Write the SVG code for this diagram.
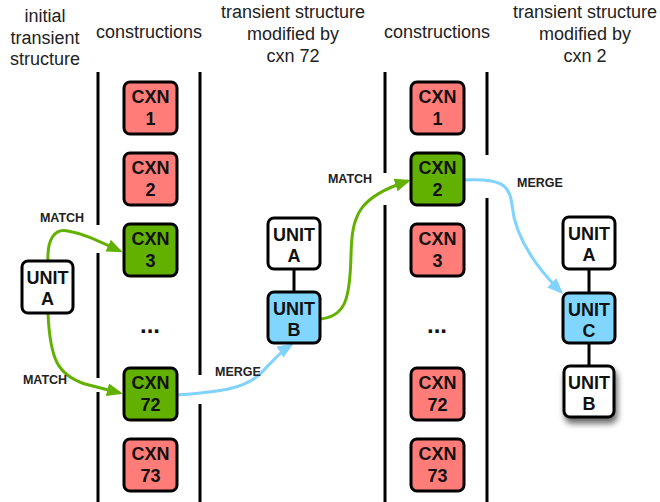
<svg xmlns="http://www.w3.org/2000/svg" width="660" height="502" viewBox="0 0 660 502">
<defs>
<style>
.hdr{font-family:"Liberation Sans",Arial,sans-serif;font-size:18px;fill:#222;text-anchor:middle}
.lbl{font-family:"Liberation Sans",Arial,sans-serif;font-size:12.5px;font-weight:bold;fill:#222;text-anchor:middle}
.bt{font-family:"Liberation Sans",Arial,sans-serif;font-size:18px;font-weight:bold;fill:#111;text-anchor:middle}
.dots{font-family:"Liberation Sans",Arial,sans-serif;font-size:24px;font-weight:bold;fill:#111;text-anchor:middle}
.red{fill:#FF7C78;stroke:#000;stroke-width:3}
.grn{fill:#62B000;stroke:#000;stroke-width:3}
.blu{fill:#80D6FF;stroke:#000;stroke-width:3}
.wht{fill:#fff;stroke:#000;stroke-width:3}
.vl{stroke:#000;stroke-width:3;fill:none}
.ga{stroke:#62B000;stroke-width:3;fill:none}
.ba{stroke:#80D2FF;stroke-width:3;fill:none}
</style>
<marker id="mg" markerUnits="userSpaceOnUse" markerWidth="18" markerHeight="14" refX="13" refY="6.5" orient="auto"><path d="M0,0 L16,6.5 L0,13 z" fill="#62B000"/></marker>
<marker id="mb" markerUnits="userSpaceOnUse" markerWidth="18" markerHeight="14" refX="13" refY="6.5" orient="auto"><path d="M0,0 L16,6.5 L0,13 z" fill="#80D2FF"/></marker>
<filter id="sh" x="-30%" y="-30%" width="170%" height="170%"><feDropShadow dx="2" dy="5" stdDeviation="3" flood-color="#000" flood-opacity="0.6"/></filter>
</defs>

<g id="headers">
<text class="hdr" x="45" y="22">initial</text>
<text class="hdr" x="45" y="44">transient</text>
<text class="hdr" x="45" y="65">structure</text>
<text class="hdr" x="149" y="38">constructions</text>
<text class="hdr" x="293" y="18">transient structure</text>
<text class="hdr" x="293" y="40">modified by</text>
<text class="hdr" x="293" y="62">cxn 72</text>
<text class="hdr" x="437" y="38">constructions</text>
<text class="hdr" x="585" y="18">transient structure</text>
<text class="hdr" x="585" y="40">modified by</text>
<text class="hdr" x="585" y="62">cxn 2</text>
</g>

<g id="dividers">
<path class="vl" d="M98,72 V225 M98,253 V378 M98,392 V502"/>
<path class="vl" d="M200,72 V375 M200,404 V502"/>
<path class="vl" d="M385,72 V173 M385,205 V502"/>
<path class="vl" d="M487,72 V155 M487,198 V502"/>
</g>

<g id="connectors">
<path class="ga" d="M48,261 C47,240 54,228 68,231 C85,234 100,242 120,251" marker-end="url(#mg)"/>
<path class="ga" d="M48,313 C50,360 58,375 85,384 L120,393" marker-end="url(#mg)"/>
<path class="ba" d="M177,395 C215,392 245,390 262,372 C272,362 280,352 291,345" marker-end="url(#mb)"/>
<path class="ga" d="M321,319 C345,316 350,300 351,255 C352,215 358,197 408,181" marker-end="url(#mg)"/>
<path class="ba" d="M463,180 C500,178 510,184 512,205 C515,238 537,268 561,292" marker-end="url(#mb)"/>
<path class="vl" d="M294,269 V292"/>
<path class="vl" d="M589,269 V293 M589,343 V366"/>
<text class="lbl" x="62" y="222">MATCH</text>
<text class="lbl" x="45" y="384">MATCH</text>
<text class="lbl" x="238" y="376">MERGE</text>
<text class="lbl" x="350" y="183">MATCH</text>
<text class="lbl" x="540" y="187">MERGE</text>
</g>

<g id="cxn1-l"><rect class="red" x="124" y="82" width="53" height="52" rx="6"/><text class="bt" x="150.5" y="103">CXN</text><text class="bt" x="150.5" y="125">1</text></g>
<g id="cxn2-l"><rect class="red" x="124" y="153" width="53" height="52" rx="6"/><text class="bt" x="150.5" y="174">CXN</text><text class="bt" x="150.5" y="196">2</text></g>
<g id="cxn3-l"><rect class="grn" x="124" y="224" width="53" height="52" rx="6"/><text class="bt" x="150.5" y="245">CXN</text><text class="bt" x="150.5" y="267">3</text></g>
<g id="dots-l"><text class="dots" x="150" y="333">...</text></g>
<g id="cxn72-l"><rect class="grn" x="124" y="368" width="53" height="52" rx="6"/><text class="bt" x="150.5" y="389">CXN</text><text class="bt" x="150.5" y="411">72</text></g>
<g id="cxn73-l"><rect class="red" x="124" y="439" width="53" height="52" rx="6"/><text class="bt" x="150.5" y="460">CXN</text><text class="bt" x="150.5" y="482">73</text></g>

<g id="cxn1-r"><rect class="red" x="411" y="82" width="53" height="52" rx="6"/><text class="bt" x="437.5" y="103">CXN</text><text class="bt" x="437.5" y="125">1</text></g>
<g id="cxn2-r"><rect class="grn" x="411" y="153" width="53" height="52" rx="6"/><text class="bt" x="437.5" y="174">CXN</text><text class="bt" x="437.5" y="196">2</text></g>
<g id="cxn3-r"><rect class="red" x="411" y="224" width="53" height="52" rx="6"/><text class="bt" x="437.5" y="245">CXN</text><text class="bt" x="437.5" y="267">3</text></g>
<g id="dots-r"><text class="dots" x="437" y="333">...</text></g>
<g id="cxn72-r"><rect class="red" x="411" y="368" width="53" height="52" rx="6"/><text class="bt" x="437.5" y="389">CXN</text><text class="bt" x="437.5" y="411">72</text></g>
<g id="cxn73-r"><rect class="red" x="411" y="439" width="53" height="52" rx="6"/><text class="bt" x="437.5" y="460">CXN</text><text class="bt" x="437.5" y="482">73</text></g>

<g id="unitA-init"><rect class="wht" x="22" y="261" width="51" height="52" rx="6"/><text class="bt" x="47.5" y="284">UNIT</text><text class="bt" x="47.5" y="305">A</text></g>

<g id="unitA-mid"><rect class="wht" x="268" y="218" width="52" height="51" rx="6"/><text class="bt" x="294" y="241">UNIT</text><text class="bt" x="294" y="262">A</text></g>
<g id="unitB-mid"><rect class="blu" x="268" y="292" width="52" height="51" rx="6"/><text class="bt" x="294" y="315">UNIT</text><text class="bt" x="294" y="336">B</text></g>

<g id="unitA-right"><rect class="wht" x="563" y="217" width="52" height="52" rx="6"/><text class="bt" x="589" y="240">UNIT</text><text class="bt" x="589" y="261">A</text></g>
<g id="unitC-right"><rect class="blu" x="563" y="293" width="52" height="50" rx="6"/><text class="bt" x="589" y="316">UNIT</text><text class="bt" x="589" y="337">C</text></g>
<g id="unitB-right"><rect class="wht" x="564" y="366" width="50" height="51" rx="6" filter="url(#sh)"/><text class="bt" x="589" y="389">UNIT</text><text class="bt" x="589" y="410">B</text></g>
</svg>
